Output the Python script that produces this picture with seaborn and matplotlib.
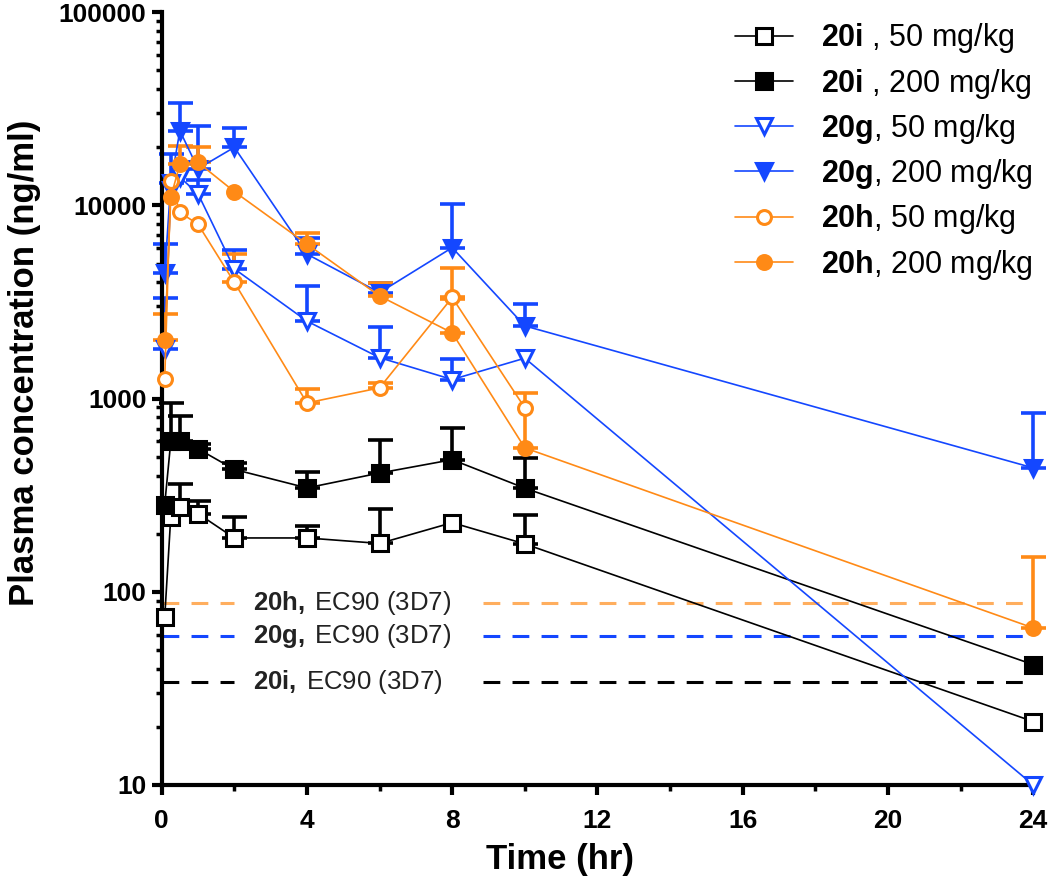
import numpy as np
import pandas as pd
import matplotlib
matplotlib.use("Agg")
import matplotlib.pyplot as plt
import matplotlib.ticker as mticker
import seaborn as sns

# time points (hr)
time_hr = [0.083, 0.25, 0.5, 1, 2, 4, 6, 8, 10, 24]

# mean plasma concentrations (ng/ml)
i50 = [74, 245, 275, 254, 190, 190, 178, 228, 177, 21.3]
i200 = [283, 600, 600, 550, 430, 345, 412, 483, 344, 42]
g50 = [1800, 12000, 14000, 11500, 4700, 2520, 1630, 1256, 1620, 10]
g200 = [4450, 13000, 24400, 15500, 20000, 5600, 3540, 6050, 2380, 438]
h50 = [1260, 13400, 9200, 8000, 4000, 950, 1137, 3340, 896, np.nan]
h200 = [2000, 11000, 16400, 16700, 11800, 6310, 3400, 2190, 556, 65]

# upper error (SD)
i50_sd = [np.nan, np.nan, 85, 42, 53, 30, 89, np.nan, 74, np.nan]
i200_sd = [np.nan, 350, 215, 30, 32, 73, 198, 220, 149, np.nan]
g50_sd = [1500, np.nan, np.nan, 2000, 1200, 1300, 720, 340, np.nan, np.nan]
g200_sd = [1850, 5500, 9700, 10400, 5100, 1180, 450, 4100, 720, 405]
h50_sd = [np.nan, np.nan, np.nan, np.nan, 1600, 170, 65, 1380, np.nan, np.nan]
h200_sd = [730, np.nan, 4000, 3300, np.nan, 930, 590, 1100, 516, 87]

# EC90 (3D7) levels
ec90_names = ["20h", "20g", "20i"]
ec90_vals = [88, 59, 34]

black = "#000000"
blue = "#1447ff"
orange = "#ff8a16"
ec90_colors = ["#ffae5e", "#1447ff", "#000000"]

series = [
    ("20i", " , 50 mg/kg", i50, i50_sd, black, "s", True),
    ("20i", " , 200 mg/kg", i200, i200_sd, black, "s", False),
    ("20g", ", 50 mg/kg", g50, g50_sd, blue, "v", True),
    ("20g", ", 200 mg/kg", g200, g200_sd, blue, "v", False),
    ("20h", ", 50 mg/kg", h50, h50_sd, orange, "o", True),
    ("20h", ", 200 mg/kg", h200, h200_sd, orange, "o", False),
]

sns.set_style("ticks")
plt.rcParams["font.family"] = ["Liberation Sans", "DejaVu Sans"]
plt.rcParams["mathtext.fontset"] = "custom"
plt.rcParams["mathtext.rm"] = "Liberation Sans"
plt.rcParams["mathtext.bf"] = "Liberation Sans:bold"
plt.rcParams["axes.edgecolor"] = "black"
plt.rcParams["xtick.color"] = "black"
plt.rcParams["ytick.color"] = "black"
plt.rcParams["text.color"] = "black"
plt.rcParams["axes.labelcolor"] = "black"

fig = plt.figure(figsize=(10.5, 8.8), dpi=100)
ax = fig.add_axes([0.154, 0.108, 0.830, 0.878])

for name, dose, vals, sd, col, mk, hollow in series:
    df = pd.DataFrame({"t": time_hr, "c": vals, "sd": sd}).dropna(subset=["c"])
    eb = df.dropna(subset=["sd"])
    ax.errorbar(eb["t"], eb["c"], yerr=[np.zeros(len(eb)), eb["sd"]], fmt="none",
                ecolor=col, elinewidth=2.6, capsize=9, capthick=2.6, zorder=2,
                clip_on=False)
    sns.lineplot(data=df, x="t", y="c", ax=ax, color=col, linewidth=1.2,
                 marker=mk, markersize=11 if mk != "o" else 10,
                 markerfacecolor="white" if hollow else col,
                 markeredgecolor=col, markeredgewidth=2.2,
                 label=r"$\mathbf{" + name + "}$" + dose, zorder=3, clip_on=False)

# EC90 dashed lines with the label in the gap
for nm, val, col in zip(ec90_names, ec90_vals, ec90_colors):
    ax.hlines(val, 0, 2.0, colors=col, linestyles=(0, (5.5, 4)), linewidth=2.2, zorder=1)
    ax.hlines(val, 8.85, 24, colors=col, linestyles=(0, (5.5, 4)), linewidth=2.2, zorder=1)
    ax.text(2.52, val, r"$\mathbf{" + nm + ",}$" + "\u2009EC90 (3D7)", fontsize=18.5,
            va="center", ha="left", color="#222222")

ax.set_yscale("log")
ax.set_ylim(10, 100000)
ax.set_xlim(0, 24)
ax.xaxis.set_major_locator(mticker.MultipleLocator(4))
ax.xaxis.set_minor_locator(mticker.MultipleLocator(2))
ax.yaxis.set_major_locator(mticker.LogLocator(base=10))
ax.yaxis.set_minor_locator(mticker.LogLocator(base=10, subs=np.arange(2, 10)))
ax.yaxis.set_major_formatter(mticker.FuncFormatter(lambda v, p: f"{int(round(v))}"))
ax.yaxis.set_minor_formatter(mticker.NullFormatter())

sns.despine(ax=ax)
for s in ["left", "bottom"]:
    ax.spines[s].set_linewidth(3)
ax.tick_params(which="major", length=7, width=3, labelsize=19)
ax.tick_params(axis="x", which="major", pad=10)
ax.tick_params(axis="y", which="major", pad=4)
ax.tick_params(which="minor", length=4, width=2.5)
for lab in ax.get_xticklabels() + ax.get_yticklabels():
    lab.set_fontweight("bold")

ax.set_xlabel("Time (hr)", fontsize=25, fontweight="bold", labelpad=14)
ax.xaxis.set_label_coords(0.457, -0.075)
ax.set_ylabel("Plasma concentration (ng/ml)", fontsize=25, fontweight="bold")
ax.yaxis.set_label_coords(-0.138, 0.547)

leg = ax.legend(loc="upper right", bbox_to_anchor=(1.031, 1.024), frameon=False,
                fontsize=22, handlelength=1.9, labelspacing=0.37, handletextpad=0.9)

fig.savefig("out.png", dpi=100)
